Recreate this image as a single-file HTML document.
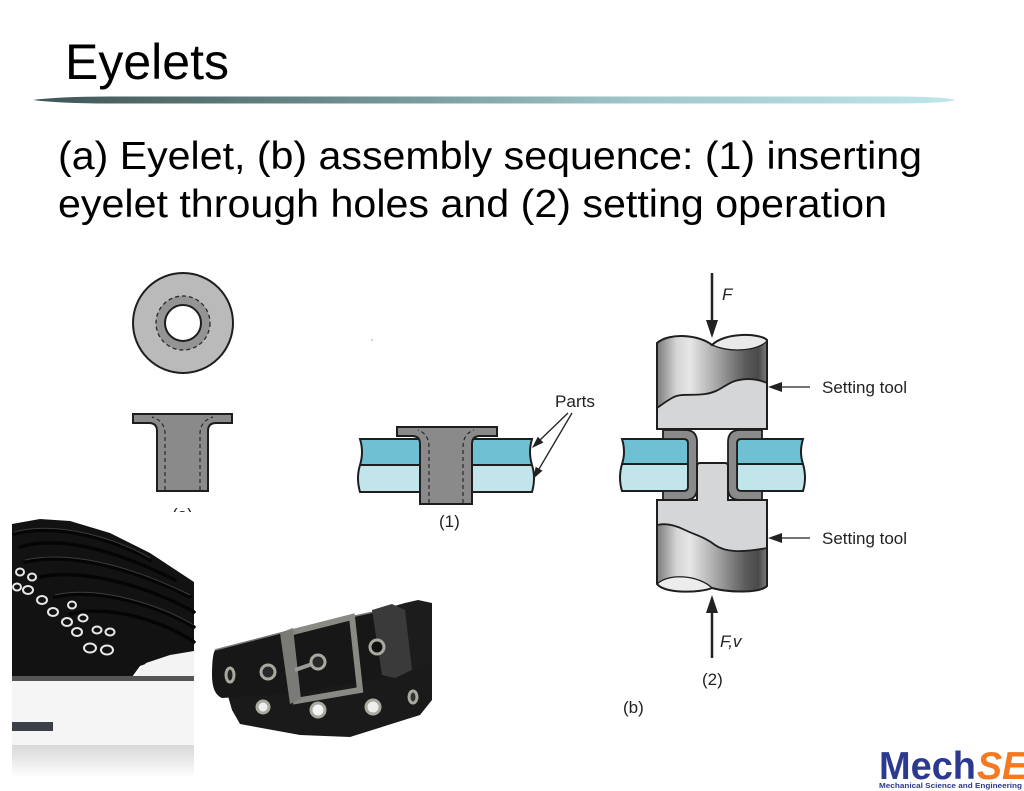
<!DOCTYPE html>
<html>
<head>
<meta charset="utf-8">
<style>
  html,body{margin:0;padding:0;background:#fff;}
  svg{display:block;}
  text{font-family:"Liberation Sans",Arial,Helvetica,sans-serif;}
</style>
</head>
<body>
<svg width="1024" height="791" viewBox="0 0 1024 791" xmlns="http://www.w3.org/2000/svg">
  <defs>
    <linearGradient id="bar" x1="33" y1="0" x2="955" y2="0" gradientUnits="userSpaceOnUse">
      <stop offset="0" stop-color="#3f5455"/>
      <stop offset="0.35" stop-color="#6f8f90"/>
      <stop offset="0.65" stop-color="#9fc7ca"/>
      <stop offset="1" stop-color="#bfe6ea"/>
    </linearGradient>
    <linearGradient id="metal" x1="657" y1="0" x2="767" y2="0" gradientUnits="userSpaceOnUse">
      <stop offset="0" stop-color="#7a7a7a"/>
      <stop offset="0.18" stop-color="#d6d6d6"/>
      <stop offset="0.3" stop-color="#e6e6e6"/>
      <stop offset="0.55" stop-color="#a4a4a4"/>
      <stop offset="0.8" stop-color="#5c5c5c"/>
      <stop offset="0.92" stop-color="#4a4a4a"/>
      <stop offset="1" stop-color="#7a7a7a"/>
    </linearGradient>
    <linearGradient id="shadow" x1="0" y1="745" x2="0" y2="778" gradientUnits="userSpaceOnUse">
      <stop offset="0" stop-color="#d8d8d8"/>
      <stop offset="1" stop-color="#ffffff"/>
    </linearGradient>
  </defs>

  <!-- Title -->
  <text x="65" y="79" font-size="50" fill="#000" textLength="164" lengthAdjust="spacingAndGlyphs">Eyelets</text>
  <path d="M33,100 Q60,96.5 110,96.5 L900,96.5 Q948,97 955,100 Q948,103 900,103.5 L110,103.5 Q60,103.5 33,100 Z" fill="url(#bar)"/>

  <!-- Subtitle -->
  <text x="58" y="169" font-size="39" fill="#000" textLength="864" lengthAdjust="spacingAndGlyphs">(a) Eyelet, (b) assembly sequence: (1) inserting</text>
  <text x="58" y="217" font-size="39" fill="#000" textLength="829" lengthAdjust="spacingAndGlyphs">eyelet through holes and (2) setting operation</text>

  <!-- (a) eyelet top view -->
  <circle cx="183" cy="323" r="50" fill="#bababa" stroke="#1e1e1e" stroke-width="2"/>
  <circle cx="183" cy="323" r="27" fill="#949494" stroke="#2a2a2a" stroke-width="1.3" stroke-dasharray="4,3"/>
  <circle cx="183" cy="323" r="18" fill="#fff" stroke="#1e1e1e" stroke-width="2"/>

  <!-- (a) eyelet side view -->
  <path d="M133,414 L232,414 L232,423 L216,423 Q208,423 208,431 L208,491 L157,491 L157,431 Q157,423 149,423 L133,423 Z" fill="#8a8a8a" stroke="#1e1e1e" stroke-width="2"/>
  <path d="M165,490 L165,434 Q165,421 152,417" fill="none" stroke="#2a2a2a" stroke-width="1.2" stroke-dasharray="4,3"/>
  <path d="M200,490 L200,434 Q200,421 213,417" fill="none" stroke="#2a2a2a" stroke-width="1.2" stroke-dasharray="4,3"/>
  <text x="172" y="520" font-size="17" fill="#222">(a)</text>

  <!-- tiny dot -->
  <circle cx="372" cy="340" r="0.8" fill="#999"/>

  <!-- (1) plates -->
  <path d="M360,439 L532,439 Q528,452 532,465 L360,465 Q364,452 360,439 Z" fill="#6ec0d2"/>
  <path d="M360,465 L532,465 Q536,478 532,492 L360,492 Q356,478 360,465 Z" fill="#c2e5ec"/>
  <path d="M360,439 L532,439 Q528,452 532,465 Q536,478 532,492 L360,492 Q356,478 360,465 Q364,452 360,439 Z M360,465 L532,465" fill="none" stroke="#1e1e1e" stroke-width="2"/>
  <!-- (1) eyelet -->
  <path d="M397,427 L497,427 L497,436 L480,436 Q472,436 472,444 L472,504 L420,504 L420,444 Q420,436 412,436 L397,436 Z" fill="#8a8a8a" stroke="#1e1e1e" stroke-width="2"/>
  <path d="M429,503 L429,447 Q429,434 418,430" fill="none" stroke="#2a2a2a" stroke-width="1.2" stroke-dasharray="4,3"/>
  <path d="M463,503 L463,447 Q463,434 474,430" fill="none" stroke="#2a2a2a" stroke-width="1.2" stroke-dasharray="4,3"/>
  <!-- Parts label -->
  <text x="555" y="407" font-size="17" fill="#222" textLength="40" lengthAdjust="spacingAndGlyphs">Parts</text>
  <line x1="568" y1="413" x2="540" y2="440" stroke="#222" stroke-width="1.3"/>
  <polygon points="532,448 543.4,442.5 537.8,436.7" fill="#222"/>
  <line x1="572" y1="413" x2="539" y2="469" stroke="#222" stroke-width="1.3"/>
  <polygon points="533,479 542.5,470.7 535.7,466.7" fill="#222"/>
  <text x="439" y="527" font-size="17" fill="#222">(1)</text>

  <!-- (b) arrow F -->
  <line x1="712" y1="273" x2="712" y2="322" stroke="#222" stroke-width="2.5"/>
  <polygon points="706,320 718,320 712,338" fill="#222"/>
  <text x="722" y="300" font-size="17" font-style="italic" fill="#222">F</text>

  <!-- upper tool -->
  <path d="M657,343 C670,332 700,335 712,345 C725,332 760,333 767,340 L767,429 L657,429 Z" fill="#d4d6d8"/>
  <path d="M657,343 C670,332 700,335 712,345 C725,332 760,333 767,340 L767,383 C755,378 745,378 735,381 C725,384 720,392 705,394 C690,396 680,393 672,398 C665,402 660,406 657,408 Z" fill="url(#metal)"/>
  <path d="M712,345 C730,353 758,351 767,341 C760,333 725,332 712,345 Z" fill="#e9e9e9"/>
  <path d="M767,383 C755,378 745,378 735,381 C725,384 720,392 705,394 C690,396 680,393 672,398 C665,402 660,406 657,408" fill="none" stroke="#1e1e1e" stroke-width="1.8"/>
  <path d="M712,345 C730,353 758,351 767,341" fill="none" stroke="#1e1e1e" stroke-width="1.3"/>
  <path d="M657,343 C670,332 700,335 712,345 C725,332 760,333 767,340 L767,429 L657,429 Z" fill="none" stroke="#1e1e1e" stroke-width="2"/>
  <!-- upper setting tool label -->
  <line x1="780" y1="387" x2="810" y2="387" stroke="#222" stroke-width="1.3"/>
  <polygon points="768,387 782,382 782,392" fill="#222"/>
  <text x="822" y="393" font-size="17" fill="#222" textLength="85" lengthAdjust="spacingAndGlyphs">Setting tool</text>

  <!-- (b) plates left -->
  <path d="M622,439 L684,439 Q688,439 688,443 L688,464 L622,464 Q626,452 622,439 Z" fill="#6ec0d2"/>
  <path d="M622,464 L688,464 L688,487 Q688,491 684,491 L622,491 Q618,478 622,464 Z" fill="#c2e5ec"/>
  <path d="M622,439 L684,439 Q688,439 688,443 L688,487 Q688,491 684,491 L622,491 Q618,478 622,464 Q626,452 622,439 Z M622,464 L688,464" fill="none" stroke="#1e1e1e" stroke-width="2"/>
  <!-- (b) plates right -->
  <path d="M803,439 L741,439 Q737,439 737,443 L737,464 L803,464 Q799,452 803,439 Z" fill="#6ec0d2"/>
  <path d="M803,464 L737,464 L737,487 Q737,491 741,491 L803,491 Q807,478 803,464 Z" fill="#c2e5ec"/>
  <path d="M803,439 L741,439 Q737,439 737,443 L737,487 Q737,491 741,491 L803,491 Q807,478 803,464 Q799,452 803,439 Z M803,464 L737,464" fill="none" stroke="#1e1e1e" stroke-width="2"/>

  <!-- (b) set eyelets -->
  <path d="M663,430 L685,430 Q697,430 697,442 L697,488 Q697,500 685,500 L663,500 L663,491 L684,491 Q688,491 688,487 L688,443 Q688,439 684,439 L663,439 Z" fill="#8a8a8a" stroke="#1e1e1e" stroke-width="1.8"/>
  <path d="M762,430 L740,430 Q728,430 728,442 L728,488 Q728,500 740,500 L762,500 L762,491 L741,491 Q737,491 737,487 L737,443 Q737,439 741,439 L762,439 Z" fill="#8a8a8a" stroke="#1e1e1e" stroke-width="1.8"/>

  <!-- lower tool -->
  <path d="M700,463 L725,463 Q728,463 728,466 L728,500 L767,500 L767,586 C760,593 730,593 712,588 C700,593 665,594 657,584 L657,500 L697,500 L697,466 Q697,463 700,463 Z" fill="#d4d6d8"/>
  <path d="M657,525 C665,523 675,525 685,530 C695,535 705,537 715,545 C725,552 740,553 767,548 L767,586 C760,593 730,593 712,588 C700,593 665,594 657,584 Z" fill="url(#metal)"/>
  <path d="M657,584 C670,572 700,576 712,588 C700,593 665,594 657,584 Z" fill="#ececec"/>
  <path d="M657,525 C665,523 675,525 685,530 C695,535 705,537 715,545 C725,552 740,553 767,548" fill="none" stroke="#1e1e1e" stroke-width="1.8"/>
  <path d="M657,584 C670,572 700,576 712,588" fill="none" stroke="#1e1e1e" stroke-width="1.3"/>
  <path d="M700,463 L725,463 Q728,463 728,466 L728,500 L767,500 L767,586 C760,593 730,593 712,588 C700,593 665,594 657,584 L657,500 L697,500 L697,466 Q697,463 700,463 Z" fill="none" stroke="#1e1e1e" stroke-width="2"/>
  <!-- lower setting tool label -->
  <line x1="780" y1="538" x2="810" y2="538" stroke="#222" stroke-width="1.3"/>
  <polygon points="768,538 782,533 782,543" fill="#222"/>
  <text x="822" y="544" font-size="17" fill="#222" textLength="85" lengthAdjust="spacingAndGlyphs">Setting tool</text>

  <!-- arrow F,v -->
  <line x1="712" y1="658" x2="712" y2="611" stroke="#222" stroke-width="2.5"/>
  <polygon points="712,595 706,613 718,613" fill="#222"/>
  <text x="720" y="647" font-size="17" font-style="italic" fill="#222">F,v</text>
  <text x="702" y="685" font-size="17" fill="#222">(2)</text>
  <text x="623" y="713" font-size="17" fill="#222">(b)</text>

  <!-- Shoe photo -->
  <rect x="0" y="512" width="196" height="270" fill="#fff"/>
  <path d="M12,524 L40,519 L70,521 L110,533 L150,553 L194,582 L194,652 L165,657 L140,666 L132,677 L12,679 Z" fill="#121212"/>
  <!-- laces -->
  <g fill="none" stroke="#050505" stroke-width="3.5" stroke-linecap="round">
    <path d="M14,534 C60,522 120,542 150,560"/>
    <path d="M20,547 C70,532 140,562 175,580"/>
    <path d="M25,562 C80,550 150,577 190,597"/>
    <path d="M40,577 C90,567 160,592 194,612"/>
    <path d="M55,597 C100,587 160,607 194,627"/>
    <path d="M70,614 C110,604 165,622 194,642"/>
  </g>
  <g fill="none" stroke="#3c3c3c" stroke-width="1">
    <path d="M14,532 C60,520 120,540 150,558"/>
    <path d="M25,560 C80,548 150,575 190,595"/>
    <path d="M55,595 C100,585 160,605 194,625"/>
  </g>
  <!-- eyelets on shoe -->
  <g fill="none" stroke="#e8e8e8" stroke-width="2">
    <ellipse cx="17" cy="587" rx="4" ry="3.5"/>
    <ellipse cx="28" cy="590" rx="5" ry="4"/>
    <ellipse cx="42" cy="600" rx="5" ry="4"/>
    <ellipse cx="53" cy="612" rx="5" ry="4"/>
    <ellipse cx="67" cy="622" rx="5" ry="4"/>
    <ellipse cx="77" cy="632" rx="5" ry="4"/>
    <ellipse cx="90" cy="648" rx="6" ry="4.5"/>
    <ellipse cx="107" cy="650" rx="6" ry="4.5"/>
    <ellipse cx="20" cy="572" rx="4" ry="3.5"/>
    <ellipse cx="32" cy="577" rx="4" ry="3.5"/>
    <ellipse cx="72" cy="605" rx="4" ry="3.5"/>
    <ellipse cx="83" cy="618" rx="4.5" ry="3.5"/>
    <ellipse cx="97" cy="630" rx="4.5" ry="3.5"/>
    <ellipse cx="110" cy="632" rx="4.5" ry="3.5"/>
  </g>
  <!-- toe cap, sole -->
  <path d="M134,677 L146,663 L170,655 L194,651 L194,677 Z" fill="#f3f3f3"/>
  <rect x="12" y="676" width="182" height="5" fill="#555"/>
  <rect x="12" y="681" width="182" height="64" fill="#f5f5f5"/>
  <rect x="12" y="722" width="41" height="9" fill="#3a3f48"/>
  <rect x="12" y="745" width="182" height="32" fill="url(#shadow)"/>

  <!-- Belt photo -->
  <path d="M228,696 L300,690 L432,655 L432,700 L420,715 L350,737 L300,735 L240,724 L232,710 Z" fill="#1a1a1a"/>
  <path d="M380,610 L405,603 L418,600 L432,603 L432,662 L395,676 Z" fill="#1c1c1c"/>
  <path d="M215,650 L300,628 L378,611 L390,676 L300,693 L222,698 Q212,694 212,675 Q212,655 215,650 Z" fill="#171717"/>
  <path d="M215,650 L300,628 L378,611" fill="none" stroke="#777" stroke-width="1.5"/>
  <path d="M372,610 L392,604 L405,610 L412,670 L395,678 L382,675 Z" fill="#3a3a3a"/>
  <path d="M289,633 L352,617 L360,690 L296,701 Z" fill="none" stroke="#8a8a84" stroke-width="6"/>
  <path d="M280,633 L293,628 L301,699 L290,704 Z" fill="#7a7a76"/>
  <line x1="318" y1="662" x2="295" y2="670" stroke="#9a9a96" stroke-width="4"/>
  <g stroke="#a9a9a0" stroke-width="3">
    <ellipse cx="230" cy="675" rx="4" ry="7" fill="#222"/>
    <circle cx="268" cy="672" r="7" fill="#2a2a2a"/>
    <circle cx="318" cy="662" r="7" fill="#2a2a2a"/>
    <circle cx="377" cy="647" r="7" fill="#111"/>
    <circle cx="263" cy="707" r="6" fill="#eee"/>
    <circle cx="318" cy="710" r="7" fill="#f5f5f5"/>
    <circle cx="373" cy="707" r="7" fill="#eee"/>
    <ellipse cx="413" cy="697" rx="4" ry="6" fill="#333"/>
  </g>

  <!-- Logo -->
  <text x="879" y="779" font-size="39" font-weight="bold" fill="#2b3990" textLength="97" lengthAdjust="spacingAndGlyphs">Mech</text>
  <text x="977" y="779" font-size="39" font-weight="bold" font-style="italic" fill="#f47920" textLength="50" lengthAdjust="spacingAndGlyphs">SE</text>
  <text x="879" y="788" font-size="7.5" font-weight="bold" fill="#2b3990" textLength="143" lengthAdjust="spacingAndGlyphs">Mechanical Science and Engineering</text>
</svg>
</body>
</html>
